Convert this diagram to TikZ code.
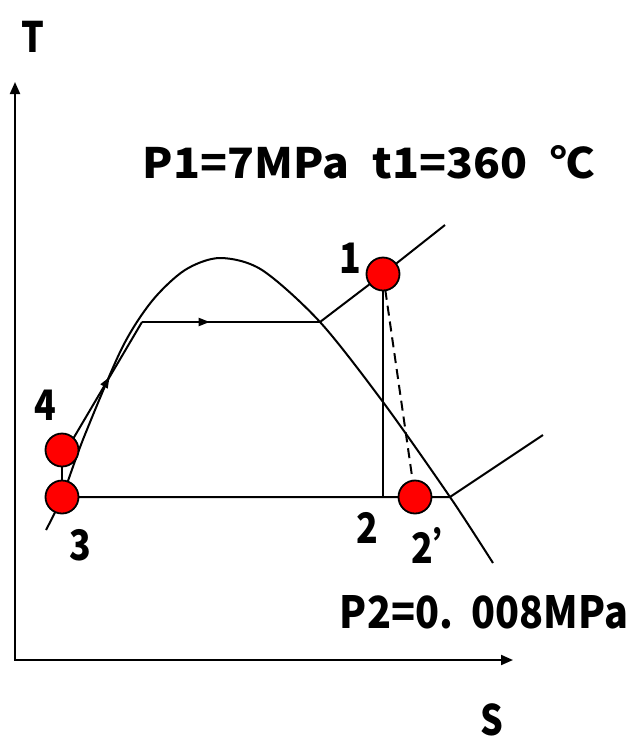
\documentclass[tikz,border=0pt]{standalone}
\usepackage{fontspec}
\setmainfont{Noto Sans CJK SC}[FakeStretch=0.85]
\usetikzlibrary{arrows.meta,decorations.markings}
\begin{document}
\begin{tikzpicture}[x=1pt,y=-1pt,line width=2pt,
  lbl/.style={font=\bfseries\fontsize{42}{42}\selectfont,inner sep=0pt},
  statept/.style={circle,draw=black,fill=red,line width=1.8pt,minimum size=33pt,inner sep=0pt},
  axisline/.style={{Triangle[length=12pt,width=10pt]}-{Triangle[length=12pt,width=10pt]}},
  midarrow/.style={postaction={decorate},decoration={markings,mark=at position #1 with {\arrow{Triangle[length=11pt,width=8pt]}}}},
  dashline/.style={dash pattern=on 10pt off 6pt}
]
\useasboundingbox (0,0) rectangle (636,740);
% axes
\coordinate (Ttip) at (15,82);
\coordinate (O) at (15,660);
\coordinate (Stip) at (513,660);
\draw[axisline] (Ttip) -- (O) -- (Stip);
% key points
\coordinate (c3) at (62,497);
\coordinate (c4) at (62,450);
\coordinate (c4b) at (73,439);
\coordinate (cA) at (142,322);
\coordinate (cB) at (320,322);
\coordinate (c1) at (383,274);
\coordinate (c2) at (383,497);
\coordinate (c2p) at (415,497);
\coordinate (cC) at (450,497);
\coordinate (e1) at (445,225);
\coordinate (e2) at (543,435);
% saturation dome
\draw plot[smooth,tension=0.5] coordinates {(46,530) (62,497) (84,437) (122,348) (152,301) (185,270) (220,258) (262,270) (320,322) (383,402) (450,497) (493,563)};
% cycle
\draw (c3) -- (c4);
\draw (c4) -- (c4b);
\draw[midarrow=0.53] (c4b) -- (cA);
\draw[midarrow=0.38] (cA) -- (cB);
\draw (cB) -- (c1) -- (e1);
\draw (c1) -- (c2);
\draw[dashline] (c1) -- (c2p);
\draw (c3) -- (cC) -- (e2);
% state points
\node[statept] (n3) at (c3) {};
\node[statept] (n4) at (c4) {};
\node[statept] (n1) at (c1) {};
\node[statept] (n2p) at (c2p) {};
% labels
\node[lbl] (lT) at (33,37) {T};
\node[lbl] (lS) at (492,720) {S};
\node[lbl] (l1) at (350,258) {1};
\node[lbl] (l4) at (45,405) {4};
\node[lbl] (l3) at (80,545) {3};
\node[lbl] (l2) at (367,528) {2};
\node[lbl] (l2p) at (440,545) {2’};
\node[inner sep=0pt] (tp1) at (369,162) {\resizebox{452pt}{33pt}{\bfseries P1=7MPa\hspace{0.45em}t1=360\hspace{0.45em}℃}};
\node[inner sep=0pt] (tp2) at (484,612) {\resizebox{288pt}{33pt}{\bfseries P2=0.\hspace{0.4em}008MPa}};
\end{tikzpicture}
\end{document}
